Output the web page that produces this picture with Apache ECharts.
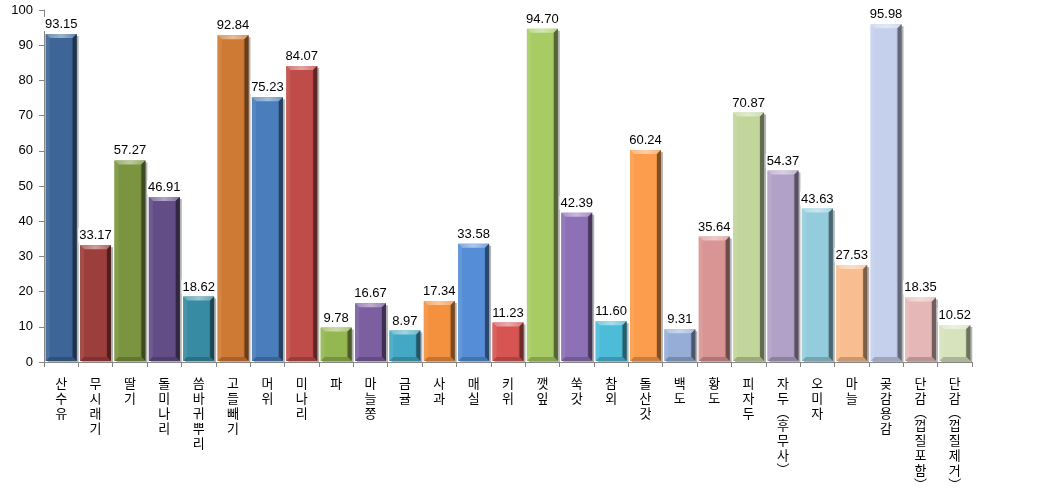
<!DOCTYPE html>
<html><head><meta charset="utf-8">
<script src="https://cdn.jsdelivr.net/npm/echarts@6/dist/echarts.min.js"></script>
<style>html,body{margin:0;padding:0;background:#fff}#c{width:1061px;height:496px}</style>
</head><body><div id="c"></div>
<script>
const categories = ['산수유','무시래기','딸기','돌미나리','씀바귀뿌리','고들빼기','머위','미나리','파','마늘쫑','금귤','사과','매실','키위','깻잎','쑥갓','참외','돌산갓','백도','황도','피자두','자두(후무사)','오미자','마늘','곶감용감','단감(껍질포함)','단감(껍질제거)'];
const values = [93.15,33.17,57.27,46.91,18.62,92.84,75.23,84.07,9.78,16.67,8.97,17.34,33.58,11.23,94.70,42.39,11.60,60.24,9.31,35.64,70.87,54.37,43.63,27.53,95.98,18.35,10.52];
const colors = ['#3d6597','#9c3e3b','#7a943f','#634d86','#378ba2','#cf7a34',
                '#4a7dbb','#c04c49','#95b752','#7c5fa0','#43a8c3','#f3913e',
                '#558ed6','#d65552','#a8cc63','#8d70b6','#4cbcd9','#fb9d4d',
                '#95add7','#d99593','#c2d59a','#b2a1c6','#93cddd','#f9be8f',
                '#c4d0ec','#e5b8b7','#d7e3bc'];
const yMin = 0, yMax = 100, yStep = 10;

function adj(hex, f){
  const n = parseInt(hex.slice(1),16);
  let r=(n>>16)&255,g=(n>>8)&255,b=n&255;
  if(f>=0){r=r+(255-r)*f;g=g+(255-g)*f;b=b+(255-b)*f;}
  else{r=r*(1+f);g=g*(1+f);b=b*(1+f);}
  return 'rgb('+Math.round(r)+','+Math.round(g)+','+Math.round(b)+')';
}

function vertLabel(s){
  return s.split('').map(ch=>{
    if(ch==='(') return '{po|︵}';
    if(ch===')') return '{pc|︶}';
    return ch;
  }).join('\n');
}

const chart = echarts.init(document.getElementById('c'));
chart.setOption({
  animation:false,
  grid:{left:44,right:89,top:10,bottom:134},
  xAxis:{
    type:'category', data:categories,
    axisLine:{lineStyle:{color:'#868686'}},
    axisTick:{show:true,length:5,lineStyle:{color:'#868686'}},
    axisLabel:{interval:0,margin:14,color:'#000',fontSize:13,lineHeight:15,
      fontFamily:'Noto Sans CJK KR',verticalAlign:'top',
      formatter:vertLabel,
      rich:{
        po:{fontSize:13,lineHeight:12,color:'#000',fontFamily:'Noto Sans CJK KR'},
        pc:{fontSize:13,lineHeight:12,color:'#000',fontFamily:'Noto Sans CJK KR'}
      }}
  },
  yAxis:{
    type:'value', min:yMin, max:yMax, interval:yStep,
    axisLine:{show:true,lineStyle:{color:'#868686'}},
    axisTick:{show:true,length:5,lineStyle:{color:'#868686'}},
    splitLine:{show:false},
    axisLabel:{color:'#000',fontSize:13,margin:11,fontFamily:'Liberation Sans'}
  },
  series:[
    {
      type:'custom',
      data: values.map((v,i)=>[i,v]),
      encode:{x:0,y:1},
      renderItem:function(params, api){
        const i = api.value(0), v = api.value(1);
        const tp = api.coord([i, v]);
        const bt = api.coord([i, 0]);
        const cw = api.size([1,0])[0];
        const w = cw*0.9;
        const l = tp[0]-w/2, r = tp[0]+w/2, t = tp[1], b = bt[1]-1;
        const c = colors[i];
        const e = Math.min(4, (b-t)/3);
        return {type:'group', children:[
          {type:'rect', shape:{x:l+2,y:t+2,width:w,height:Math.max(0,b-t-1)}, style:{fill:'rgba(0,0,0,0.3)'}},
          {type:'rect', shape:{x:l,y:t,width:w,height:b-t}, style:{fill:new echarts.graphic.LinearGradient(0,0,1,0,[
            {offset:0,color:adj(c,0.12)},{offset:0.12,color:c},{offset:0.82,color:c},{offset:1,color:adj(c,-0.35)}])}},
          {type:'polygon', shape:{points:[[l,t],[r,t],[r-e,t+e],[l+e,t+e]]}, style:{fill:new echarts.graphic.LinearGradient(0,0,1,0,[
            {offset:0,color:adj(c,0.25)},{offset:0.5,color:adj(c,0.5)},{offset:1,color:adj(c,0.2)}])}},
          {type:'polygon', shape:{points:[[r,t],[r,b],[r-e,b-e],[r-e,t+e]]}, style:{fill:adj(c,-0.5)}},
          {type:'polygon', shape:{points:[[l,t],[l+e,t+e],[l+e,b-e],[l,b]]}, style:{fill:adj(c,0.08)}},
          {type:'polygon', shape:{points:[[l,b],[l+e,b-e],[r-e,b-e],[r,b]]}, style:{fill:adj(c,-0.2)}}
        ]};
      },
      z:2
    },
    {
      type:'bar', data:values, barWidth:'90%', silent:true, z:5,
      itemStyle:{color:'rgba(0,0,0,0)'},
      label:{show:true,position:'top',distance:3,color:'#000',fontSize:13,
        fontFamily:'Liberation Sans',backgroundColor:'#fff',padding:[1,1,0,1],
        formatter:p=>p.value.toFixed(2)}
    }
  ]
});
</script></body></html>
